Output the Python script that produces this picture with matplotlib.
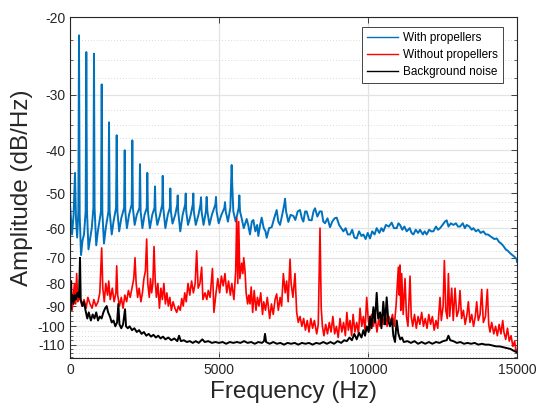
import numpy as np
import matplotlib
matplotlib.use('Agg')
import matplotlib.pyplot as plt
from matplotlib.ticker import FixedLocator, FuncFormatter, NullFormatter

plt.rcParams['font.family'] = ['Liberation Sans', 'DejaVu Sans']

# Spectrum (frequency in Hz, amplitude in dB/Hz)
blue_freq = [0, 40, 70, 120, 168, 200, 240, 280, 302, 325, 370, 420, 470, 525, 547, 570, 620, 680, 730, 785,
             805, 825, 880, 935, 1040, 1064, 1085, 1140, 1200, 1290, 1309, 1330, 1400, 1460, 1545, 1567, 1590,
             1650, 1720, 1815, 1836, 1855, 1910, 1980, 2070, 2091, 2110, 2170, 2240, 2330, 2349, 2370, 2430,
             2500, 2575, 2594, 2615, 2680, 2760, 2835, 2852, 2870, 2930, 3020, 3095, 3111, 3130, 3200, 3280,
             3350, 3366, 3385, 3440, 3530, 3600, 3614, 3630, 3700, 3780, 3865, 3883, 3900, 3960, 4050, 4120,
             4138, 4155, 4220, 4310, 4380, 4396, 4415, 4480, 4560, 4586, 4610, 4680, 4760, 4880, 4899, 4920,
             4990, 5080, 5180, 5201, 5225, 5300, 5380, 5410, 5425, 5445, 5480, 5560, 5660, 5682, 5705, 5760,
             5830, 5928, 5980, 6040, 6100, 6152, 6220, 6280, 6320, 6380, 6432, 6500, 6560, 6600, 6680, 6768,
             6850, 6935, 6990, 7047, 7120, 7190, 7215, 7250, 7327, 7400, 7495, 7560, 7640, 7718, 7780, 7830,
             7890, 7942, 8020, 8110, 8170, 8222, 8300, 8380, 8445, 8500, 8557, 8640, 8725, 8800, 8880, 8949,
             9030, 9100, 9173, 9250, 9320, 9396, 9470, 9540, 9620, 9700, 9780, 9844, 9920, 9990, 10067, 10140,
             10220, 10291, 10380, 10450, 10514, 10600, 10700, 10794, 10870, 10962, 11020, 11074, 11150, 11220,
             11298, 11400, 11460, 11522, 11600, 11680, 11745, 11840, 11900, 11969, 12050, 12120, 12193, 12280,
             12350, 12416, 12500, 12580, 12640, 12700, 12780, 12864, 12950, 13020, 13087, 13180, 13250, 13311,
             13400, 13480, 13535, 13620, 13700, 13780, 13870, 13950, 14020, 14094, 14170, 14240, 14318, 14400,
             14470, 14541, 14620, 14690, 14765, 14840, 14900, 14989, 15000]
blue_amp = [-53, -58, -62, -56, -45, -57, -63, -55, -22, -56, -69, -64, -62, -55, -24, -55, -67, -63, -60, -54,
            -24.2, -54, -65.6, -61, -55, -28.4, -55, -65, -60, -55, -34.6, -55, -62, -58, -54, -37, -55,
            -61, -57, -54, -40, -55, -60, -56, -53, -38, -54, -59, -56, -54, -43, -55, -60,
            -56, -54, -45, -55, -60, -56, -54, -48.3, -55, -59, -56, -53, -45.7, -54, -60, -56,
            -54, -48.8, -55, -58.6, -56, -53, -50.6, -55, -61, -56, -53, -50.1, -55, -59, -56, -53,
            -50.1, -55, -59, -56, -53, -51.1, -55, -59, -55, -51, -55, -59, -56, -53, -51, -55,
            -58.5, -56, -54, -52.4, -55, -58, -54, -46, -43.2, -48, -55, -58, -54, -50.6, -55, -57,
            -60, -57.2, -59, -62, -58, -57.5, -61, -59, -62.5, -59, -56.8, -60, -61, -63.1, -60, -59.7,
            -57, -54.6, -58, -59, -56, -53, -51.5, -55, -58.1, -56, -56.3, -57.5, -55, -54.6, -57, -58,
            -55, -55, -57.5, -57.6, -55, -54.1, -56.5, -55, -55, -58, -58.5, -57, -59.7, -58, -57, -56.8,
            -59, -60, -61, -60, -62, -62, -60.5, -63, -63.3, -61, -62.5, -62, -63.5, -61.5, -63.3, -61,
            -62, -60, -61.5, -60, -61, -59, -59.5, -58.3, -60, -60, -58.5, -59, -60.5, -59.5,
            -61, -60, -61.5, -62, -60.5, -61.5, -60.5, -62, -61, -62, -60.5, -61, -61, -59.5,
            -60.5, -60, -59, -58, -57.6, -59.5, -58.5, -59, -58.5, -59.5, -59.5, -58.5, -60, -59,
            -59.5, -60.5, -60, -61, -60.5, -61.5, -61, -62, -62, -62.5, -63, -63.5, -63.3, -64.5,
            -65, -65.8, -67, -67.5, -68.3, -69, -69.5, -70.5, -71.5]

red_freq = [0, 25, 45, 70, 110, 150, 190, 224, 260, 336, 400, 470, 540, 600, 670, 740, 800, 870, 940, 1000,
            1063, 1100, 1150, 1200, 1260, 1300, 1350, 1420, 1480, 1540, 1567, 1600, 1660, 1720, 1780, 1840,
            1900, 1960, 2020, 2080, 2140, 2181, 2220, 2270, 2320, 2380, 2430, 2480, 2530, 2573, 2610, 2660,
            2700, 2740, 2780, 2819, 2860, 2900, 2950, 3000, 3050, 3100, 3150, 3200, 3250, 3300, 3350, 3400,
            3460, 3520, 3580, 3640, 3700, 3750, 3800, 3850, 3900, 3960, 4020, 4080, 4140, 4200, 4250, 4300,
            4360, 4418, 4460, 4530, 4590, 4640, 4700, 4780, 4830, 4900, 4960, 5020, 5080, 5140, 5200, 5260,
            5320, 5380, 5430, 5500, 5560, 5593, 5630, 5660, 5700, 5760, 5800, 5830, 5873, 5910, 5960, 6000,
            6040, 6080, 6130, 6180, 6240, 6290, 6340, 6400, 6460, 6500, 6560, 6620, 6700, 6760, 6820, 6880,
            6935, 6990, 7050, 7100, 7159, 7220, 7270, 7320, 7383, 7420, 7480, 7550, 7606, 7660, 7718, 7780,
            7840, 7900, 7960, 8020, 8080, 8140, 8200, 8278, 8330, 8389, 8430, 8470, 8520, 8580, 8640, 8700,
            8760, 8820, 8880, 8940, 9000, 9060, 9120, 9180, 9240, 9290, 9340, 9396, 9450, 9500, 9560, 9620,
            9680, 9732, 9790, 9844, 9900, 9956, 10010, 10060, 10120, 10180, 10240, 10300, 10360, 10403, 10460,
            10520, 10580, 10640, 10700, 10760, 10820, 10880, 10940, 11018, 11050, 11074, 11100, 11130, 11180,
            11242, 11290, 11340, 11410, 11450, 11500, 11560, 11620, 11680, 11740, 11800, 11860, 11920, 11980,
            12040, 12100, 12160, 12220, 12280, 12340, 12416, 12460, 12520, 12562, 12610, 12660, 12697, 12740,
            12808, 12860, 12920, 12980, 13040, 13087, 13140, 13200, 13260, 13320, 13367, 13420, 13480, 13540,
            13600, 13647, 13700, 13760, 13815, 13870, 13940, 14005, 14050, 14094, 14150, 14220, 14280, 14340,
            14400, 14460, 14520, 14560, 14620, 14680, 14740, 14800, 14860, 14920, 14970, 15000]
red_amp = [-77, -90, -79, -92, -86, -80, -89, -76, -88, -86, -90, -87, -91, -86, -89, -91, -87, -90, -88, -84,
           -66.5, -82, -88, -80, -85, -79, -87, -82, -88, -84, -73, -85, -90, -86, -91, -85,
           -88, -83, -86, -82, -78, -70, -80, -86, -82, -88, -84, -78, -75, -63.5, -80, -86,
           -78, -84, -80, -66, -79, -86, -80, -91, -82, -87, -80, -89, -84, -90, -86, -92,
           -88, -91, -93, -90, -92, -86.5, -90, -84, -88, -80, -85, -79, -84, -80, -67.5, -82,
           -80, -73.5, -87, -84, -87, -83, -86, -74, -93, -84, -78, -84, -77, -81, -76, -84,
           -79, -85, -80, -87, -75, -57, -80, -58, -78, -72, -76, -70, -75, -84, -89, -85,
           -89, -81.5, -93, -83, -92, -86, -90, -84, -94, -88, -92, -86, -96, -89, -94, -87,
           -84.5, -92, -86, -90, -76, -84, -79, -88, -70.5, -80, -86, -76, -93, -98, -95, -100,
           -96, -102, -97, -103, -96, -101, -97, -104, -99, -60, -91, -100, -105, -99, -104, -98,
           -103, -95, -104, -100, -106, -96, -103, -98, -105, -93, -102, -97, -105, -94, -103, -98,
           -104, -91, -100, -95, -102, -86, -97, -102, -94, -100, -95, -103, -96, -100, -94,
           -99, -93, -100, -95, -98, -94, -100, -90, -73.5, -85, -72.7, -92, -76, -94,
           -78, -95, -100, -77, -95, -100, -94, -101, -95, -99, -93, -100, -96, -101,
           -94, -99, -95, -102, -97, -101, -86, -97, -90, -71, -92, -96, -76, -95,
           -82, -97, -82, -95, -92, -83, -96, -92, -99, -94, -88, -98, -94, -100,
           -95, -88, -97, -94, -82.5, -98, -95, -82.5, -99, -103, -98, -104, -100, -105,
           -99, -104, -97, -103, -107, -101, -108, -105, -111, -108, -114, -113.5]

black_freq = [0, 15, 30, 50, 80, 120, 160, 200, 250, 300, 336, 360, 420, 470, 520, 580, 630, 700, 760, 820,
              880, 940, 1000, 1060, 1120, 1180, 1231, 1280, 1340, 1400, 1460, 1520, 1580, 1622, 1660, 1720,
              1780, 1846, 1880, 1940, 2000, 2080, 2160, 2240, 2320, 2400, 2480, 2560, 2640, 2720, 2800, 2880,
              2960, 3040, 3120, 3200, 3300, 3400, 3500, 3600, 3660, 3720, 3820, 3920, 4020, 4120, 4220, 4320,
              4440, 4520, 4640, 4760, 4880, 5000, 5120, 5240, 5360, 5480, 5600, 5720, 5840, 5960, 6080, 6200,
              6320, 6440, 6510, 6544, 6580, 6700, 6820, 6940, 7060, 7180, 7300, 7420, 7540, 7660, 7780, 7900,
              8020, 8140, 8260, 8380, 8500, 8620, 8740, 8860, 8980, 9100, 9200, 9290, 9380, 9460, 9540, 9620,
              9700, 9780, 9844, 9900, 9960, 10020, 10067, 10120, 10180, 10230, 10291, 10340, 10403, 10450,
              10514, 10570, 10626, 10680, 10738, 10800, 10850, 10906, 10962, 11020, 11080, 11140, 11200, 11320,
              11440, 11560, 11680, 11800, 11920, 12040, 12160, 12280, 12400, 12520, 12640, 12697, 12760, 12864,
              12980, 13100, 13220, 13340, 13460, 13580, 13700, 13820, 13940, 14060, 14180, 14300, 14420, 14540,
              14660, 14780, 14880, 15000]
black_amp = [-80, -92, -79, -88, -85, -89, -85, -87, -84, -86, -70, -87, -90, -88, -92, -96, -93, -97, -94, -96,
             -93, -97, -95, -96, -93, -91, -90, -93, -95, -98, -97, -100, -98, -89, -99, -101,
             -99, -91.5, -100, -101, -100, -102, -101, -103, -102, -104, -103, -105, -104, -105.5, -104.5, -106,
             -105, -106.5, -105.5, -107, -106, -107.5, -106.5, -108, -105, -108, -107.5, -108.5, -108, -109, -108, -109,
             -107, -108.5, -108, -109, -108.5, -109, -108.5, -109.5, -108.5, -109, -108.5, -109, -108, -109, -108.5, -109.5,
             -108.5, -109, -108, -104, -108.5, -109.5, -108.5, -109.5, -109, -110, -109, -109.5, -109, -110, -109, -109.5,
             -109, -110, -109, -109.5, -108.5, -109.5, -108.5, -109.5, -108, -109, -107.5, -108, -106, -107.5, -104, -107,
             -103.5, -106, -102, -105, -100, -103, -95, -101, -90.5, -98, -84, -96, -93, -101,
             -88, -99, -86, -97, -100, -96, -105, -108.5, -97, -104, -107, -106, -108.5, -108,
             -109, -108, -109.5, -108.5, -109.5, -108.5, -109.5, -108.5, -109, -108, -107.5, -105, -107.5, -108,
             -109, -108.5, -109.5, -109, -109.5, -109, -110, -109.5, -110, -110, -110.5, -111, -111, -111.5,
             -112, -112.5, -113.5, -114.5]

y_major = [-20, -30, -40, -50, -60, -70, -80, -90, -100, -110]
x_major = [0, 5000, 10000, 15000]


# y axis is logarithmic in the magnitude of the dB value
def forward(y):
    return -np.log10(np.abs(y))


def inverse(z):
    return -10.0 ** (-z)


fig = plt.figure(figsize=(5.36, 4.15), dpi=100)
ax = fig.add_axes([0.1306, 0.137, 0.834, 0.822])

ax.plot(blue_freq, blue_amp, color='#0072BD', lw=1.4, label='With propellers')
ax.plot(red_freq, red_amp, color='#FF0000', lw=1.2, label='Without propellers')
ax.plot(black_freq, black_amp, color='#000000', lw=1.4, label='Background noise')

ax.set_yscale('function', functions=(forward, inverse))
ax.set_xlim(0, 15000)
ax.set_ylim(-118, -20)

ax.yaxis.set_major_locator(FixedLocator(y_major))
ax.yaxis.set_major_formatter(FuncFormatter(lambda v, p: '%d' % round(v)))
minors = [v for v in np.arange(-117.5, -20, 2.5) if v not in y_major]
ax.yaxis.set_minor_locator(FixedLocator(minors))
ax.yaxis.set_minor_formatter(NullFormatter())
ax.xaxis.set_major_locator(FixedLocator(x_major))

ax.grid(which='major', color='#e3e3e3', lw=0.9, ls='-')
ax.grid(which='minor', axis='y', color='#cfcfcf', lw=0.6, ls=(0, (1, 2.5)))
ax.set_axisbelow(True)

ax.tick_params(which='both', direction='in', top=True, right=True, colors='#262626', labelsize=10)
ax.tick_params(which='major', length=4, width=0.6)
ax.tick_params(which='minor', length=2.5, width=0.5)
for s in ax.spines.values():
    s.set_color('#262626')
    s.set_linewidth(0.8)

ax.set_xlabel('Frequency (Hz)', fontsize=17.5, color='#262626', labelpad=3)
ax.set_ylabel('Amplitude (dB/Hz)', fontsize=17.5, color='#262626', labelpad=3)

leg = ax.legend(loc='upper right', fontsize=8.5, frameon=True, fancybox=False, framealpha=1,
                edgecolor='#262626', borderpad=0.45, labelspacing=0.4, handlelength=2.6,
                handletextpad=0.45, borderaxespad=0, bbox_to_anchor=(0.9687, 0.9707))
leg.get_frame().set_linewidth(0.6)
for line in leg.get_lines():
    line.set_linewidth(1.0)

plt.savefig('out.png', dpi=100)
